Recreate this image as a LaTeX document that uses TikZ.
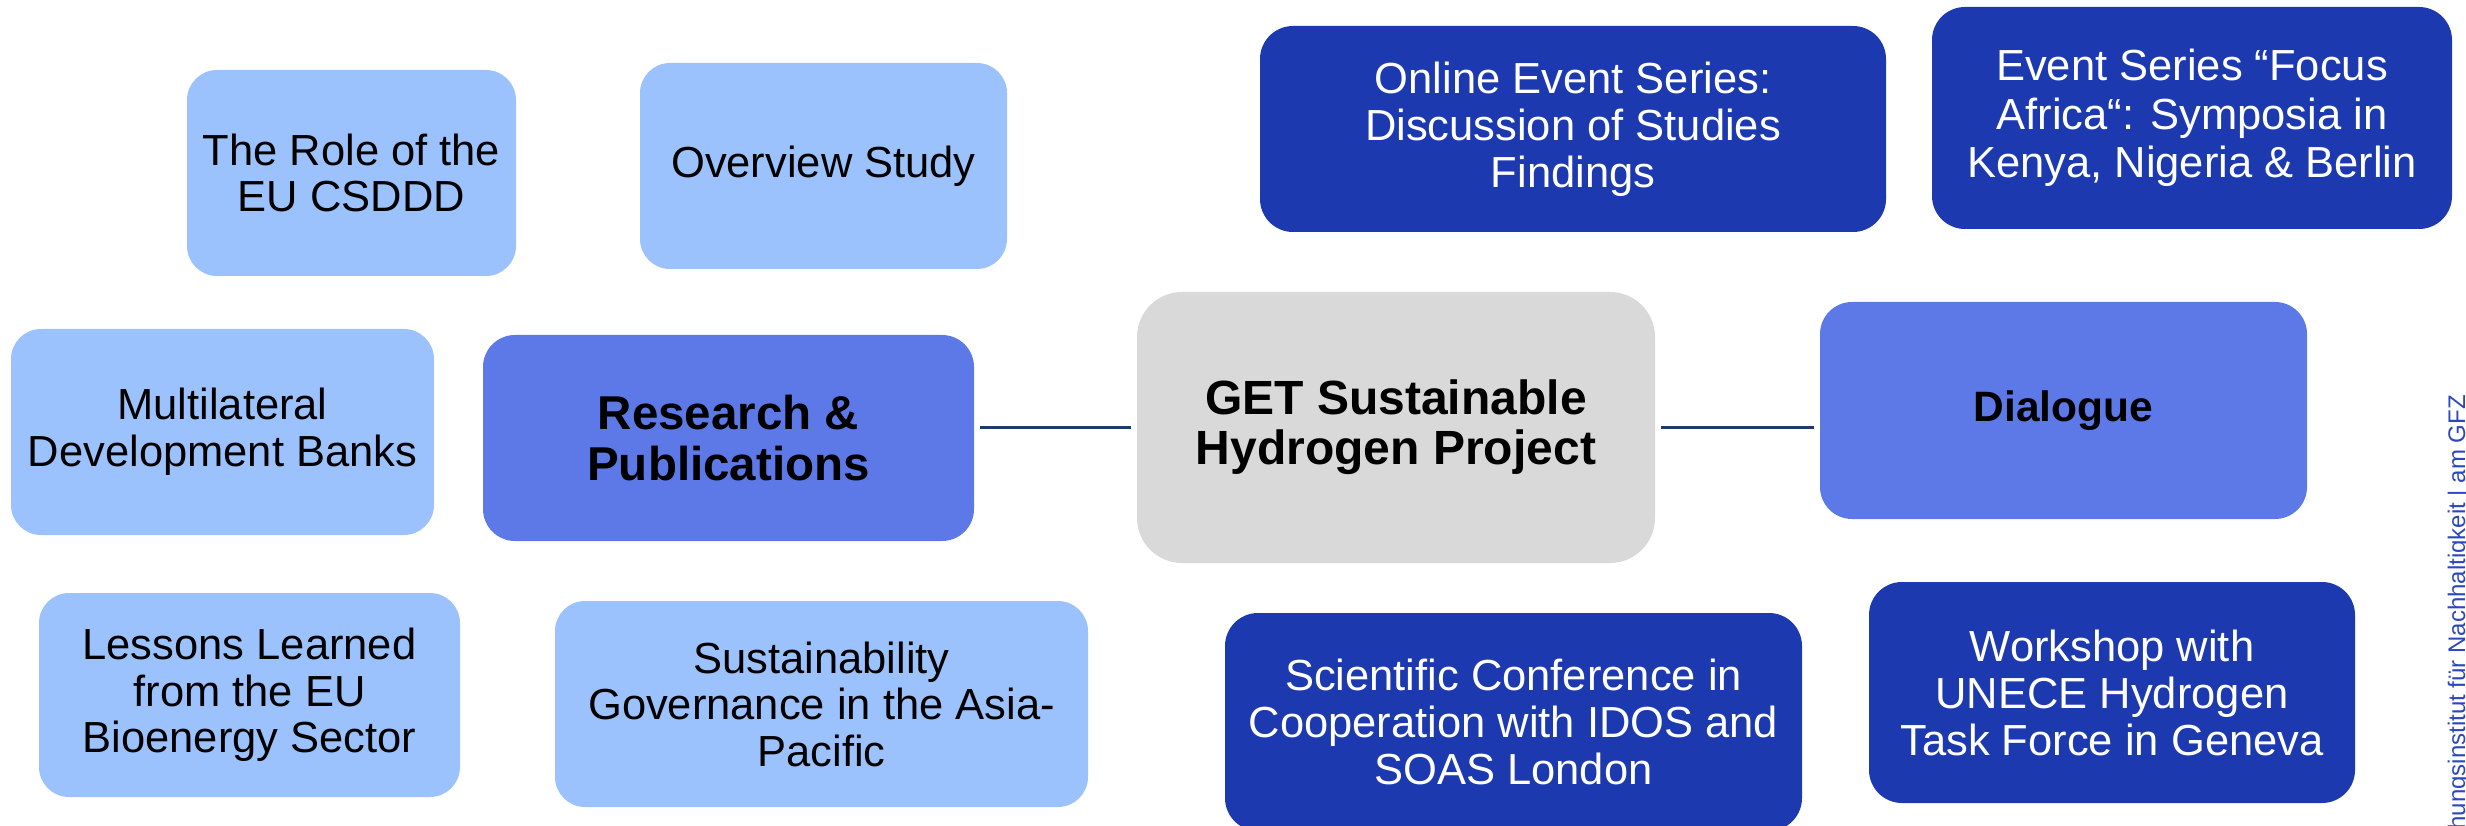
\documentclass[tikz,border=0pt]{standalone}
\usepackage{fontspec}
\setmainfont{Liberation Sans}
\definecolor{lightbox}{HTML}{9CC2FE}
\definecolor{midbox}{HTML}{5D78E7}
\definecolor{darkbox}{HTML}{1C39B0}
\definecolor{hubgrey}{HTML}{D9D9D9}
\definecolor{linknavy}{HTML}{1F3A6B}
\definecolor{footblue}{HTML}{2A47BD}
\tikzset{
  boxbase/.style={inner sep=0pt, align=center, draw=none},
  lightnode/.style={boxbase, fill=lightbox, rounded corners=30pt, text=black,
    font=\fontsize{43.5}{46.5}\selectfont},
  darknode/.style={boxbase, fill=darkbox, rounded corners=33pt, text=white,
    font=\fontsize{43.5}{47}\selectfont},
  midnode/.style={boxbase, fill=midbox, rounded corners=32pt, text=black,
    font=\fontsize{47.5}{51}\selectfont\bfseries},
  hubnode/.style={boxbase, fill=hubgrey, rounded corners=45pt, text=black,
    font=\fontsize{48}{50}\selectfont\bfseries},
  link/.style={draw=linknavy, line width=3pt, shorten >=6pt, shorten <=6pt},
}
\begin{document}
\begin{tikzpicture}[x=1pt, y=-1pt]
\useasboundingbox (0,0) rectangle (2466,826);
\clip (0,0) rectangle (2466,826);

% left cluster
\node[lightnode, minimum width=329pt, minimum height=206pt] (csddd) at (351.5,173) {The Role of the\\EU CSDDD};
\node[lightnode, minimum width=367pt, minimum height=206pt] (overview) at (823.5,166) {Overview Study};
\node[lightnode, minimum width=423pt, minimum height=206pt] (mdb) at (222.5,432) {Multilateral\\Development Banks};
\node[midnode, minimum width=491pt, minimum height=206pt] (research) at (728.5,438) {Research \&\\Publications};
\node[lightnode, minimum width=421pt, minimum height=204pt] (lessons) at (249.5,695) {Lessons Learned\\from the EU\\Bioenergy Sector};
\node[lightnode, minimum width=533pt, minimum height=206pt] (asia) at (821.5,704) {Sustainability\\Governance in the Asia-\\Pacific};

% hub
\node[hubnode, minimum width=518pt, minimum height=271pt] (hub) at (1396,427.5) {GET Sustainable\\Hydrogen Project};

% right cluster
\node[midnode, minimum width=487pt, minimum height=217pt, font=\fontsize{42.5}{46}\selectfont\bfseries] (dialogue) at (2063.5,410.5) {Dialogue};
\node[darknode, minimum width=626pt, minimum height=206pt] (online) at (1573,129) {Online Event Series:\\Discussion of Studies\\Findings};
\node[darknode, minimum width=520pt, minimum height=222pt, font=\fontsize{43.5}{48.5}\selectfont] (focus) at (2192,118) {Event Series “Focus\\Africa“: Symposia in\\Kenya, Nigeria \& Berlin};
\node[darknode, minimum width=577pt, minimum height=218pt] (conf) at (1513.5,722) {Scientific Conference in\\Cooperation with IDOS and\\SOAS London};
\node[darknode, minimum width=486pt, minimum height=221pt] (workshop) at (2112,692.5) {Workshop with\\UNECE Hydrogen\\Task Force in Geneva};

% connectors
\draw[link] (research.east |- hub.west) -- (hub.west);
\draw[link] (hub.east) -- (hub.east -| dialogue.west);

% side label
\node[rotate=90, anchor=base east, inner sep=0pt, text=footblue,
  font=\fontsize{24}{24}\selectfont] (rifs) at (2465,395) {Forschungsinstitut für Nachhaltigkeit | am GFZ};
\end{tikzpicture}
\end{document}
